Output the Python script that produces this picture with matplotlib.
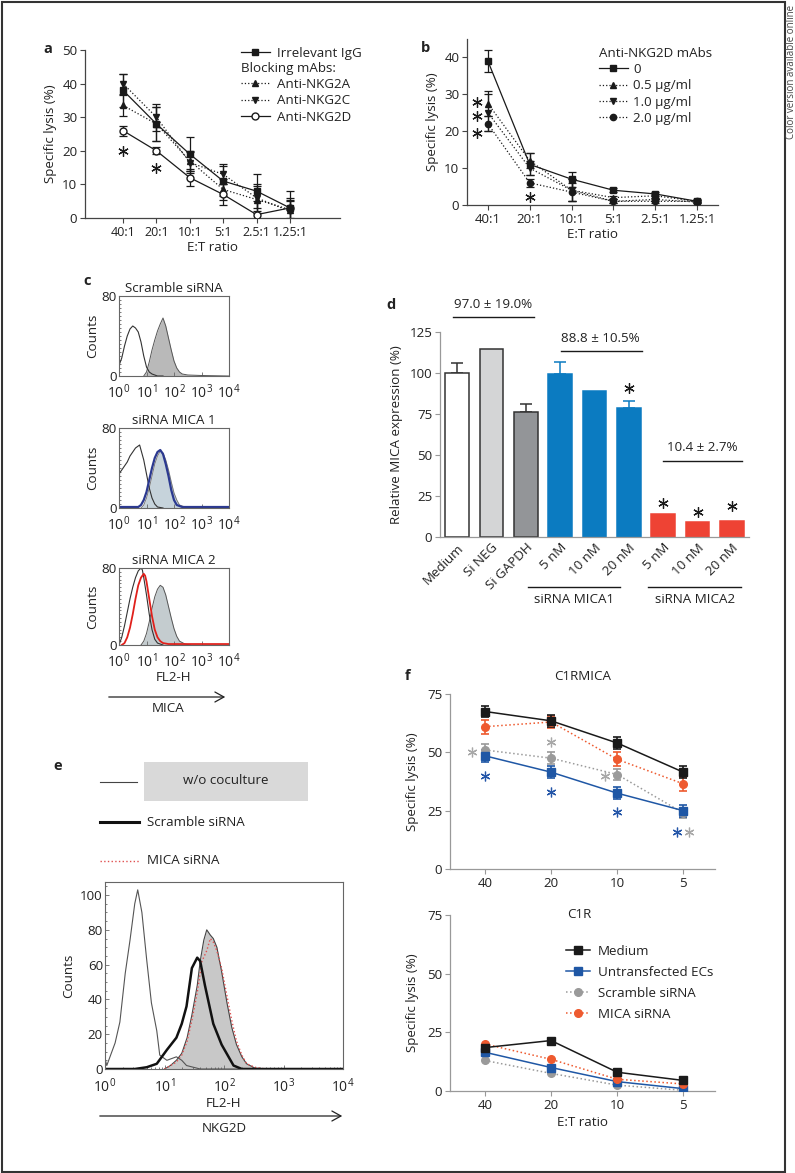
import matplotlib
matplotlib.use('Agg')
import matplotlib.pyplot as plt
import numpy as np
from matplotlib.lines import Line2D
from matplotlib.patches import Rectangle, FancyArrowPatch

plt.rcParams['font.family'] = ['Open Sans', 'DejaVu Sans']
plt.rcParams['font.size'] = 9.6
plt.rcParams['mathtext.fontset'] = 'custom'
plt.rcParams['mathtext.rm'] = 'Open Sans'
plt.rcParams['mathtext.it'] = 'Open Sans:italic'
plt.rcParams['mathtext.bf'] = 'Open Sans:bold'
plt.rcParams['text.color'] = '#222222'
plt.rcParams['axes.labelcolor'] = '#222222'
plt.rcParams['xtick.color'] = '#444444'
plt.rcParams['ytick.color'] = '#444444'
plt.rcParams['xtick.labelcolor'] = '#222222'
plt.rcParams['ytick.labelcolor'] = '#222222'

W, H = 795, 1173
FS = 9.6

# ---------------- panel a ----------------
ratios_ab = ['40:1', '20:1', '10:1', '5:1', '2.5:1', '1.25:1']
a_igg = [38, 28, 19, 11, 8, 3]
a_igg_err = [5, 5, 5, 4.5, 5, 5]
a_nkg2a = [33.5, 28, 17, 8.5, 5.5, 2.5]
a_nkg2a_err = [3, 5, 3, 3, 4, 3]
a_nkg2c = [40, 30, 16.5, 13, 6, 2]
a_nkg2c_err = [3, 4, 3, 3, 4, 3]
a_nkg2d = [26, 20, 12, 7, 1, 3]
a_nkg2d_err = [1.5, 1, 2.5, 3, 4, 3]
a_star_x = [0, 1]
a_star_y = [20, 15]

# ---------------- panel b ----------------
b_dose0 = [39, 11, 7, 4, 3, 1]
b_dose0_err = [3, 3, 2, 0.5, 0.6, 0.5]
b_dose05 = [27.5, 12, 4, 2, 2.5, 1]
b_dose05_err = [3.5, 2, 3, 0.5, 0.5, 0.3]
b_dose10 = [25, 10, 4, 1, 1.5, 0.8]
b_dose10_err = [5, 2, 3, 0.5, 0.5, 0.3]
b_dose20 = [22, 6, 3.5, 1, 1, 1]
b_dose20_err = [2, 1, 2.5, 0.5, 0.5, 0.3]
b_star_x = [-0.25, -0.25, -0.25, 1]
b_star_y = [28, 24, 19.5, 2.2]

# ---------------- panel c (log10 FL2-H, counts) ----------------
c1_iso_x = [0.0, 0.02, 0.1, 0.2, 0.3, 0.4, 0.5, 0.6, 0.7, 0.8, 0.9, 1.0, 1.1, 1.2, 1.3, 1.4, 1.6]
c1_iso_y = [0, 12, 18, 30, 40, 47, 50, 48, 44, 34, 20, 9, 4, 2, 1, 0, 0]
c1_pos_x = [0.9, 1.0, 1.1, 1.2, 1.3, 1.4, 1.5, 1.6, 1.7, 1.8, 1.9, 2.0, 2.1, 2.2, 2.3, 2.5, 3.0, 4.0]
c1_pos_y = [0, 4, 14, 26, 36, 45, 52, 58, 50, 38, 26, 15, 8, 4, 2, 1, 0.5, 0]

c2_iso_x = [0.0, 0.02, 0.1, 0.2, 0.3, 0.4, 0.5, 0.6, 0.7, 0.75, 0.8, 0.9, 1.0, 1.1, 1.2, 1.3, 1.4, 1.6]
c2_iso_y = [0, 35, 38, 42, 46, 52, 56, 60, 62, 63, 58, 48, 34, 20, 10, 4, 1, 0]
c2_pos_x = [0.8, 0.9, 1.0, 1.1, 1.2, 1.3, 1.4, 1.5, 1.6, 1.7, 1.8, 1.9, 2.0, 2.1, 2.2, 2.4, 2.6]
c2_pos_y = [0, 3, 10, 20, 32, 44, 52, 57, 55, 48, 38, 26, 15, 8, 3, 1, 0]
c2_sirna_x = [0.0, 0.7, 0.8, 0.9, 1.0, 1.1, 1.2, 1.3, 1.4, 1.5, 1.6, 1.7, 1.8, 1.9, 2.0, 2.1, 2.3, 4.0]
c2_sirna_y = [1, 1, 3, 8, 16, 28, 40, 50, 56, 58, 54, 44, 32, 18, 8, 3, 1, 1]

c3_iso_x = [0.0, 0.1, 0.2, 0.3, 0.4, 0.5, 0.6, 0.7, 0.8, 0.85, 0.9, 1.0, 1.1, 1.2, 1.3, 1.4, 1.6]
c3_iso_y = [0, 8, 20, 34, 48, 60, 70, 77, 80, 78, 70, 52, 32, 16, 6, 2, 0]
c3_pos_x = [0.8, 0.9, 1.0, 1.1, 1.2, 1.3, 1.4, 1.5, 1.6, 1.7, 1.8, 1.9, 2.0, 2.1, 2.2, 2.4, 2.6]
c3_pos_y = [0, 4, 12, 24, 38, 50, 58, 62, 60, 52, 40, 28, 17, 9, 4, 1, 0]
c3_sirna_x = [0.1, 0.2, 0.3, 0.4, 0.5, 0.6, 0.7, 0.8, 0.9, 0.95, 1.0, 1.1, 1.2, 1.3, 1.4, 1.5, 1.6, 1.8, 2.0, 4.0]
c3_sirna_y = [0, 2, 8, 18, 32, 48, 62, 70, 74, 72, 66, 48, 30, 16, 8, 4, 2, 1, 1, 1]

# ---------------- panel d ----------------
d_labels = ['Medium', 'Si NEG', 'Si GAPDH', '5 nM', '10 nM', '20 nM', '5 nM', '10 nM', '20 nM']
d_values = [100, 114.5, 76.5, 99.5, 89, 78.5, 14, 9, 10]
d_err = [6, 0, 4.5, 7, 0, 4.5, 0, 0, 0]
d_star_x = [5, 6, 7, 8]
d_star_y = [91, 21, 15, 19]

# ---------------- panel e (log10 FL2-H, counts) ----------------
e_none_x = [0.0, 0.03, 0.17, 0.25, 0.34, 0.42, 0.5, 0.55, 0.62, 0.7, 0.78, 0.87, 0.92, 1.04, 1.2, 1.29, 1.37, 1.6, 4.0]
e_none_y = [6, 2, 15, 27, 55, 74, 95, 103, 90, 63, 38, 22, 8, 5, 7, 5, 2, 0, 0]
e_scr_x = [0.0, 0.5, 0.7, 0.87, 1.04, 1.2, 1.29, 1.37, 1.46, 1.55, 1.6, 1.68, 1.82, 1.96, 2.16, 2.3, 4.0]
e_scr_y = [0, 0, 1, 3, 11, 18, 26, 36, 58, 64, 62, 48, 26, 14, 2, 0, 0]
e_ctrl_x = [1.0, 1.1, 1.2, 1.29, 1.38, 1.46, 1.55, 1.6, 1.66, 1.71, 1.77, 1.82, 1.88, 1.96, 2.05, 2.13, 2.21, 2.3, 2.38, 2.52, 2.7]
e_ctrl_y = [0, 2, 5, 9, 18, 31, 48, 62, 74, 80, 77, 75, 70, 56, 38, 24, 14, 7, 3, 0.5, 0]
e_mica_x = [1.0, 1.2, 1.29, 1.38, 1.46, 1.55, 1.63, 1.71, 1.77, 1.82, 1.88, 1.96, 2.05, 2.13, 2.21, 2.3, 2.38, 2.52, 2.7]
e_mica_y = [0, 4, 8, 16, 28, 44, 62, 68, 75, 73, 68, 58, 42, 28, 16, 8, 3, 1, 0]

# ---------------- panel f ----------------
f_ratios = ['40', '20', '10', '5']
f1_medium = [67.5, 63.5, 54, 41.5]
f1_medium_err = [2.5, 2.5, 2.5, 2.5]
f1_untr = [48.5, 41.5, 32.5, 25]
f1_untr_err = [2.5, 2.5, 2.5, 2.5]
f1_scr = [51, 47.5, 40.5, 24]
f1_scr_err = [2.5, 2.5, 2.5, 2]
f1_mica = [61, 63, 47, 36.5]
f1_mica_err = [3, 2.5, 3, 3]
f1_star_blue_x = [0, 1, 2, 2.91]
f1_star_blue_y = [40, 33, 24.5, 16]
f1_star_grey_x = [-0.2, 1, 1.82, 3.09]
f1_star_grey_y = [50, 54.5, 40, 16]

f2_medium = [18.5, 21.5, 8, 4.5]
f2_untr = [16.5, 10, 4, 1]
f2_scr = [13, 7.5, 2.5, 0.3]
f2_mica = [20, 13.5, 5, 3]

BLACK = '#1a1a1a'
BLUE_F = '#1f57a5'
GREY_F = '#9a9a9a'
RED_F = '#ee5a2f'
BLUE_D = '#0b7bc1'
RED_D = '#ee4334'


def px_axes(fig, x0, y0, x1, y1):
    return fig.add_axes([x0 / W, 1 - y1 / H, (x1 - x0) / W, (y1 - y0) / H])


def fig_text(fig, x, y, s, **kw):
    fig.text(x / W, 1 - y / H, s, **kw)


def fig_arrow(fig, x0, x1, y):
    fig.add_artist(FancyArrowPatch((x0 / W, 1 - y / H), (x1 / W, 1 - y / H),
                                   transform=fig.transFigure,
                                   arrowstyle='->,head_length=0.65,head_width=0.36',
                                   mutation_scale=10, lw=0.9, color='#222222'))


def open_axes(ax, color='#444444'):
    for side in ['top', 'right']:
        ax.spines[side].set_visible(False)
    for side in ['left', 'bottom']:
        ax.spines[side].set_color(color)
        ax.spines[side].set_linewidth(0.9)
    ax.tick_params(length=3.5, width=0.8, color=color, pad=2)


def star(ax, xs, ys, color=BLACK, ms=7.5):
    ax.plot(xs, ys, ls='none', marker=(6, 2, 0), ms=ms, mew=0.9, color=color, clip_on=False)


def series(ax, x, y, err, marker, ls, color=BLACK, mfc=None, ms=4.5, lw=0.9, err_lw=0.9):
    if err is not None:
        ax.errorbar(x, y, yerr=err, fmt='none', ecolor=color, elinewidth=err_lw,
                    capsize=3, capthick=err_lw, zorder=2)
    ax.plot(x, y, ls=ls, lw=lw, color=color, marker=marker, ms=ms,
            mfc=color if mfc is None else mfc, mec=color, zorder=3)


def panel_a(fig):
    ax = px_axes(fig, 85, 50, 340, 218)
    x = np.arange(len(ratios_ab))
    series(ax, x, a_nkg2a, a_nkg2a_err, '^', ':')
    series(ax, x, a_nkg2c, a_nkg2c_err, 'v', ':')
    series(ax, x, a_nkg2d, a_nkg2d_err, 'o', '-', mfc='white', ms=5)
    series(ax, x, a_igg, a_igg_err, 's', '-')
    star(ax, a_star_x, a_star_y)
    open_axes(ax)
    ax.set_xlim(-1.14, 6.5)
    ax.set_ylim(0, 50)
    ax.set_yticks([0, 10, 20, 30, 40, 50])
    ax.set_xticks(x)
    ax.set_xticklabels(ratios_ab, fontsize=9)
    ax.set_ylabel('Specific lysis (%)', labelpad=4)
    ax.set_xlabel('E:T ratio', labelpad=2)
    h1 = [Line2D([], [], color=BLACK, lw=0.9, marker='s', ms=4.5)]
    fig.legend(h1, ['Irrelevant IgG'], loc='upper left',
               bbox_to_anchor=(234 / W, 1 - 40 / H), frameon=False, borderpad=0,
               handlelength=2.2, handletextpad=0.5, fontsize=FS)
    h2 = [Line2D([], [], color=BLACK, lw=0.9, ls=':', marker='^', ms=4.5),
          Line2D([], [], color=BLACK, lw=0.9, ls=':', marker='v', ms=4.5),
          Line2D([], [], color=BLACK, lw=0.9, ls='-', marker='o', ms=5, mfc='white')]
    fig.legend(h2, ['Anti-NKG2A', 'Anti-NKG2C', 'Anti-NKG2D'], loc='upper left',
               title='Blocking mAbs:', title_fontsize=FS, alignment='left',
               bbox_to_anchor=(234 / W, 1 - 55 / H), frameon=False, borderpad=0,
               handlelength=2.2, handletextpad=0.5, labelspacing=0.25, fontsize=FS)
    fig_text(fig, 48, 49, 'a', fontweight='bold', fontsize=10.5, ha='center', va='center')


def panel_b(fig):
    ax = px_axes(fig, 467, 39, 718, 205)
    x = np.arange(len(ratios_ab))
    series(ax, x, b_dose05, b_dose05_err, '^', ':')
    series(ax, x, b_dose10, b_dose10_err, 'v', ':')
    series(ax, x, b_dose20, b_dose20_err, 'o', ':')
    series(ax, x, b_dose0, b_dose0_err, 's', '-')
    star(ax, b_star_x, b_star_y)
    open_axes(ax)
    ax.set_xlim(-0.5, 5.5)
    ax.set_ylim(0, 45)
    ax.set_yticks([0, 10, 20, 30, 40])
    ax.set_xticks(x)
    ax.set_xticklabels(ratios_ab)
    ax.set_ylabel('Specific lysis (%)', labelpad=4)
    ax.set_xlabel('E:T ratio', labelpad=2)
    hs = [Line2D([], [], color=BLACK, lw=0.9, marker='s', ms=4.5),
          Line2D([], [], color=BLACK, lw=0.9, ls=':', marker='^', ms=4.5),
          Line2D([], [], color=BLACK, lw=0.9, ls=':', marker='v', ms=4.5),
          Line2D([], [], color=BLACK, lw=0.9, ls=':', marker='o', ms=4.5)]
    fig.legend(hs, ['0', '0.5 \u00b5g/ml', '1.0 \u00b5g/ml', '2.0 \u00b5g/ml'], loc='upper left',
               title='Anti-NKG2D mAbs', title_fontsize=FS, alignment='left',
               bbox_to_anchor=(592 / W, 1 - 40 / H), frameon=False, borderpad=0,
               handlelength=2.2, handletextpad=0.4, labelspacing=0.25, fontsize=FS)
    fig_text(fig, 426, 48, 'b', fontweight='bold', fontsize=10.5, ha='center', va='center')


def hist_axes(fig, box, ymax, yticks):
    ax = px_axes(fig, *box)
    ax.set_xscale('log')
    ax.set_xlim(1, 1e4)
    ax.set_ylim(0, ymax)
    ax.set_yticks(yticks)
    ax.set_xticks([1, 10, 100, 1000, 10000])
    ax.set_xticklabels([r'$\mathregular{10^{%d}}$' % k for k in range(5)], fontsize=10)
    for s in ax.spines.values():
        s.set_color('#666666')
        s.set_linewidth(0.8)
    ax.tick_params(which='both', direction='in', color='#666666', width=0.6)
    ax.tick_params(axis='y', pad=1.5)
    ax.tick_params(axis='x', pad=5)
    ax.tick_params(which='major', length=3)
    ax.tick_params(which='minor', length=1.5)
    ax.yaxis.set_minor_locator(matplotlib.ticker.MultipleLocator(ymax / 20))
    return ax


def lin(lx):
    return 10 ** np.array(lx)


def panel_c(fig):
    ax = hist_axes(fig, (119, 296, 229, 376), 80, [0, 80])
    ax.fill_between(lin(c1_pos_x), c1_pos_y, color='#b9b9b9', lw=0)
    ax.plot(lin(c1_pos_x), c1_pos_y, color='#555555', lw=0.7)
    ax.plot(lin(c1_iso_x), c1_iso_y, color='#333333', lw=0.8)
    ax.set_ylabel('Counts', labelpad=2)
    ax.set_title('Scramble siRNA', fontsize=FS, pad=3)

    ax = hist_axes(fig, (119, 428, 229, 508), 80, [0, 80])
    ax.fill_between(lin(c2_pos_x), c2_pos_y, color='#c6d3db', lw=0)
    ax.plot(lin(c2_pos_x), c2_pos_y, color='#777777', lw=0.7)
    ax.plot(lin(c2_iso_x), c2_iso_y, color='#333333', lw=0.8)
    ax.plot(lin(c2_sirna_x), c2_sirna_y, color='#2b3990', lw=1.6)
    ax.set_ylabel('Counts', labelpad=2)
    ax.set_title('siRNA MICA 1', fontsize=FS, pad=3)

    ax = hist_axes(fig, (119, 568, 229, 645), 80, [0, 80])
    ax.fill_between(lin(c3_pos_x), c3_pos_y, color='#c4cccf', lw=0)
    ax.plot(lin(c3_pos_x), c3_pos_y, color='#555555', lw=0.7)
    ax.plot(lin(c3_iso_x), c3_iso_y, color='#333333', lw=0.8)
    ax.plot(lin(c3_sirna_x), c3_sirna_y, color='#e0201b', lw=1.3)
    ax.set_ylabel('Counts', labelpad=2)
    ax.set_title('siRNA MICA 2', fontsize=FS, pad=3)
    ax.set_xlabel('FL2-H', labelpad=0)

    fig_arrow(fig, 106, 228, 697)
    fig_text(fig, 168, 708, 'MICA', ha='center', va='center')
    fig_text(fig, 87, 281, 'c', fontweight='bold', fontsize=10.5, ha='center', va='center')


def panel_d(fig):
    ax = px_axes(fig, 440, 332, 749, 537)
    x = np.arange(len(d_labels))
    colors = ['white', '#d4d5d6', '#939598'] + [BLUE_D] * 3 + [RED_D] * 3
    edges = ['#333333'] * 3 + [BLUE_D] * 3 + [RED_D] * 3
    ax.bar(x, d_values, width=0.68, color=colors, edgecolor=edges, lw=1.1, zorder=2)
    for xi, v, e, c in zip(x, d_values, d_err, edges):
        if e > 0:
            ax.errorbar([xi], [v], yerr=[[0], [e]], fmt='none', ecolor=c,
                        elinewidth=1.1, capsize=4, capthick=1.1, zorder=1)
    star(ax, d_star_x, d_star_y, ms=7.5)
    open_axes(ax, color='#999999')
    ax.tick_params(axis='x', length=0, pad=3)
    ax.set_xlim(-0.5, 8.5)
    ax.set_ylim(0, 125)
    ax.set_yticks([0, 25, 50, 75, 100, 125])
    ax.set_xticks(x)
    ax.set_xticklabels(d_labels, rotation=45, ha='right', rotation_mode='anchor')
    ax.set_ylabel('Relative MICA expression (%)', labelpad=5)

    ax.plot([-0.12, 2.24], [134, 134], color=BLACK, lw=1, clip_on=False)
    ax.text(1.05, 142, '97.0 \u00b1 19.0%', ha='center', va='center')
    ax.plot([3.02, 5.38], [113.4, 113.4], color=BLACK, lw=1, clip_on=False)
    ax.text(4.16, 121.3, '88.8 \u00b1 10.5%', ha='center', va='center')
    ax.plot([5.99, 8.31], [46.3, 46.3], color=BLACK, lw=1, clip_on=False)
    ax.text(7.15, 54.3, '10.4 \u00b1 2.7%', ha='center', va='center')

    tr = ax.get_xaxis_transform()
    ax.plot([2.06, 4.74], [-0.244, -0.244], color=BLACK, lw=1, transform=tr, clip_on=False)
    ax.text(3.4, -0.307, 'siRNA MICA1', ha='center', va='center', transform=tr)
    ax.plot([5.55, 8.28], [-0.244, -0.244], color=BLACK, lw=1, transform=tr, clip_on=False)
    ax.text(6.92, -0.307, 'siRNA MICA2', ha='center', va='center', transform=tr)
    fig_text(fig, 391, 305, 'd', fontweight='bold', fontsize=10.5, ha='center', va='center')


def panel_e(fig):
    ax = hist_axes(fig, (105, 882, 343, 1069), 107.5, [0, 20, 40, 60, 80, 100])
    ax.yaxis.set_minor_locator(matplotlib.ticker.MultipleLocator(5))
    ax.fill_between(lin(e_ctrl_x), e_ctrl_y, color='#c8c8c8', lw=0)
    ax.plot(lin(e_ctrl_x), e_ctrl_y, color='#444444', lw=0.8)
    ax.plot(lin(e_mica_x), e_mica_y, color='#e05050', lw=1, ls=':')
    ax.plot(lin(e_none_x), e_none_y, color='#555555', lw=0.8)
    ax.plot(lin(e_scr_x), e_scr_y, color='#111111', lw=1.8)
    ax.set_ylabel('Counts', labelpad=4)
    ax.set_xlabel('FL2-H', labelpad=1)
    ax.tick_params(axis='x', which='major', pad=6)

    fig.add_artist(Line2D([100 / W, 137 / W], [1 - 782 / H] * 2, color='#444444', lw=0.8))
    fig.add_artist(Rectangle((144 / W, 1 - 801 / H), 164 / W, 39 / H, transform=fig.transFigure,
                             color='#d9d9d9', lw=0))
    fig_text(fig, 226, 781, 'w/o coculture', ha='center', va='center')
    fig.add_artist(Line2D([100 / W, 139 / W], [1 - 822 / H] * 2, color='#111111', lw=2.2))
    fig_text(fig, 147, 822, 'Scramble siRNA', ha='left', va='center')
    fig.add_artist(Line2D([100 / W, 139 / W], [1 - 861 / H] * 2, color='#e05050', lw=1, ls=':'))
    fig_text(fig, 147, 861, 'MICA siRNA', ha='left', va='center')

    fig_arrow(fig, 97, 345, 1116)
    fig_text(fig, 224, 1129, 'NKG2D', ha='center', va='center')
    fig_text(fig, 58, 766, 'e', fontweight='bold', fontsize=10.5, ha='center', va='center')


def panel_f(fig):
    x = np.arange(len(f_ratios))
    ax = px_axes(fig, 450, 694, 715, 869)
    series(ax, x, f1_scr, f1_scr_err, 'o', ':', color=GREY_F, ms=5.5, lw=1.1, err_lw=1.2)
    series(ax, x, f1_untr, f1_untr_err, 's', '-', color=BLUE_F, ms=5.5, lw=1.1, err_lw=1.2)
    series(ax, x, f1_mica, f1_mica_err, 'o', ':', color=RED_F, ms=5.5, lw=1.1, err_lw=1.2)
    series(ax, x, f1_medium, f1_medium_err, 's', '-', color=BLACK, ms=5.5, lw=1.1, err_lw=1.2)
    star(ax, f1_star_blue_x, f1_star_blue_y, color='#2456a8', ms=7)
    star(ax, f1_star_grey_x, f1_star_grey_y, color='#a8a8a8', ms=7)
    open_axes(ax, color='#999999')
    ax.set_xlim(-0.53, 3.48)
    ax.set_ylim(0, 75)
    ax.set_yticks([0, 25, 50, 75])
    ax.set_xticks(x)
    ax.set_xticklabels(f_ratios)
    ax.set_ylabel('Specific lysis (%)', labelpad=6)
    ax.set_title('C1RMICA', fontsize=FS, pad=10)

    ax = px_axes(fig, 450, 915, 715, 1091)
    series(ax, x, f2_scr, None, 'o', ':', color=GREY_F, ms=5.5, lw=1.1)
    series(ax, x, f2_untr, None, 's', '-', color=BLUE_F, ms=5.5, lw=1.1)
    series(ax, x, f2_mica, None, 'o', ':', color=RED_F, ms=5.5, lw=1.1)
    series(ax, x, f2_medium, None, 's', '-', color=BLACK, ms=5.5, lw=1.1)
    open_axes(ax, color='#999999')
    ax.set_xlim(-0.53, 3.48)
    ax.set_ylim(0, 75)
    ax.set_yticks([0, 25, 50, 75])
    ax.set_xticks(x)
    ax.set_xticklabels(f_ratios)
    ax.set_ylabel('Specific lysis (%)', labelpad=6)
    ax.set_xlabel('E:T ratio', labelpad=3)
    ax.text(0.487, 1.0, 'C1R', transform=ax.transAxes, ha='center', va='center')
    hs = [Line2D([], [], color=BLACK, lw=1.1, marker='s', ms=5.5),
          Line2D([], [], color=BLUE_F, lw=1.1, marker='s', ms=5.5),
          Line2D([], [], color=GREY_F, lw=1.1, ls=':', marker='o', ms=5.5),
          Line2D([], [], color=RED_F, lw=1.1, ls=':', marker='o', ms=5.5)]
    ax.legend(hs, ['Medium', 'Untransfected ECs', 'Scramble siRNA', 'MICA siRNA'],
              loc='upper left', bbox_to_anchor=((566 - 450) / 265, 1 - (945 - 915) / 176),
              frameon=False, borderpad=0, borderaxespad=0, handlelength=1.8,
              handletextpad=0.6, labelspacing=0.6, fontsize=FS)
    fig_text(fig, 408, 676, 'f', fontweight='bold', fontsize=10.5, ha='center', va='center')


def main():
    fig = plt.figure(figsize=(W / 100, H / 100), dpi=100)
    panel_a(fig)
    panel_b(fig)
    panel_c(fig)
    panel_d(fig)
    panel_e(fig)
    panel_f(fig)
    fig.add_artist(Rectangle((1.5 / W, 1 - 1172 / H), 783 / W, 1170 / H,
                             transform=fig.transFigure, fill=False, lw=1.5, ec='#333333'))
    fig_text(fig, 791, 72, 'Color version available online', rotation=90,
             fontsize=7, color='#444444', ha='center', va='center')
    fig.savefig('out.png', dpi=100)


if __name__ == '__main__':
    main()
